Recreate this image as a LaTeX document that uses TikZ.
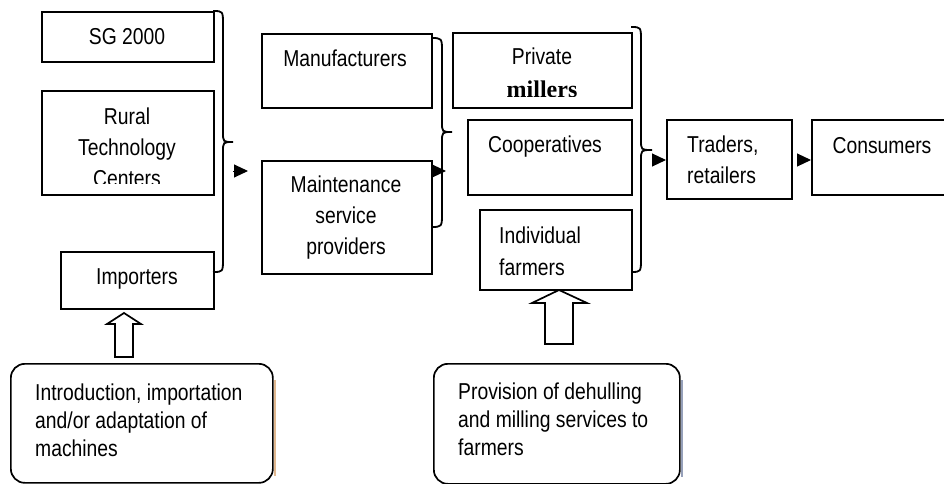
\documentclass[tikz,border=0pt]{standalone}
\usepackage{fontspec}
\setmainfont{Liberation Sans}[FakeStretch=0.84]
\newfontfamily\serifbold{Liberation Serif}
\usetikzlibrary{arrows.meta}
\definecolor{shadowtan}{RGB}{225,185,145}
\definecolor{shadowblue}{RGB}{150,160,185}
\newcommand\drawbrace[6]{%
  \draw[bracestyle] (#1,#4) .. controls ({#2},{#4}) .. ({#2},{#4+14})
    -- ({#2},{#5-10}) .. controls ({#2},{#5}) .. ({#3},{#5})
    .. controls ({#2},{#5}) .. ({#2},{#5+10})
    -- ({#2},{#6-14}) .. controls ({#2},{#6}) .. ({#1},{#6});}
\begin{document}
\begin{tikzpicture}[x=1pt,y=-1pt,
  box/.style={draw, line width=1.7pt, inner sep=0pt, anchor=north west},
  rbox/.style={box, rounded corners=14pt},
  txt/.style={inner sep=0pt, anchor=base, align=center, font=\fontsize{23}{31}\selectfont},
  ltxt/.style={txt, anchor=base west, align=left},
  btxt/.style={ltxt, font=\fontsize{23}{28}\selectfont},
  bracestyle/.style={line width=1.8pt},
  tri/.style={-{Triangle[length=14pt,width=13pt]}, line width=1pt},
  hollow/.style={draw, line width=1.7pt, fill=white, line join=miter}]
\fill[white] (0,0) rectangle (944,484);
\useasboundingbox (0,0) rectangle (944,484);

% boxes
\node[box, minimum width=172pt, minimum height=50pt] (sg) at (41,11) {};
\node[box, minimum width=172pt, minimum height=104pt] (rtc) at (41,90) {};
\node[box, minimum width=153pt, minimum height=57pt] (imp) at (60,251) {};
\node[box, minimum width=170pt, minimum height=74pt] (man) at (261,33) {};
\node[box, minimum width=170pt, minimum height=113pt] (mnt) at (261,160) {};
\node[box, minimum width=179pt, minimum height=75pt] (pvt) at (452,32) {};
\node[box, minimum width=164pt, minimum height=75pt] (coop) at (467,119) {};
\node[box, minimum width=152pt, minimum height=80pt] (ind) at (479,209) {};
\node[box, minimum width=125pt, minimum height=79pt] (trd) at (666,119) {};
\node[box, minimum width=150pt, minimum height=75pt] (con) at (811,119) {};

% shadows of rounded boxes
\draw[shadowtan, line width=2pt] (274.5,380) -- (274.5,476);
\draw[shadowblue, line width=2pt] (681.5,380) -- (681.5,477);
\node[rbox, fill=white, minimum width=262pt, minimum height=119pt] (intro) at (10,363) {};
\node[rbox, fill=white, minimum width=246pt, minimum height=120pt] (prov) at (433,363) {};

% texts (multi-line nodes: base anchor = last line)
\node[txt] (tsg) at (127,45) {SG 2000};
\begin{scope}
  \clip (41,90) rectangle (213,183);
  \node[txt] (trtc) at (127,186) {Rural\\Technology\\Centers};
\end{scope}
\node[txt] (timp) at (137,284) {Importers};
\node[txt] (tman) at (345,67) {Manufacturers};
\node[txt] (tmnt) at (346,254) {Maintenance\\service\\providers};
\node[txt] (tpvt) at (542,65) {Private};
\begin{scope}
  \clip (452,32) rectangle (631,97);
  \node[txt, font=\serifbold\bfseries\fontsize{24}{24}\selectfont] (tmil) at (542,98) {millers};
\end{scope}
\node[txt] (tcoop) at (545,152) {Cooperatives};
\node[ltxt, font=\fontsize{23}{32}\selectfont] (tind) at (499,275) {Individual\\farmers};
\node[ltxt, font=\fontsize{23}{31}\selectfont] (ttrd) at (687,183) {Traders,\\retailers};
\node[txt] (tcon) at (882,153) {Consumers};
\node[btxt] (tintro) at (35,456) {Introduction, importation\\and/or adaptation of\\machines};
\node[btxt] (tprov) at (458,455) {Provision of dehulling\\and milling services to\\farmers};

% braces
\drawbrace{213}{223}{233}{11}{142}{272}
\drawbrace{431}{442}{452}{38}{132}{227}
\drawbrace{631}{641}{652}{27}{150}{272}

% arrowheads
\coordinate (a1) at (233,171);
\coordinate (a3) at (652,160);
\draw[tri, shorten >=13pt] (a1) -- (a1 -| mnt.west);
\draw[tri, shorten >=21pt] (a1 -| mnt.east) -- (a1 -| coop.west);
\draw[tri] (a3) -- (a3 -| trd.west);
\draw[tri, shorten <=5pt] (a3 -| trd.east) -- (a3 -| con.west);

% hollow block arrows
\draw[hollow] (115,357) -- (115,324) -- (107,324) -- (124,313) -- (141,324)
  -- (133,324) -- (133,357) -- cycle;
\draw[hollow] (545,344) -- (545,303) -- (532,303) -- (559,290) -- (587,303)
  -- (573,303) -- (573,344) -- cycle;
\end{tikzpicture}
\end{document}
